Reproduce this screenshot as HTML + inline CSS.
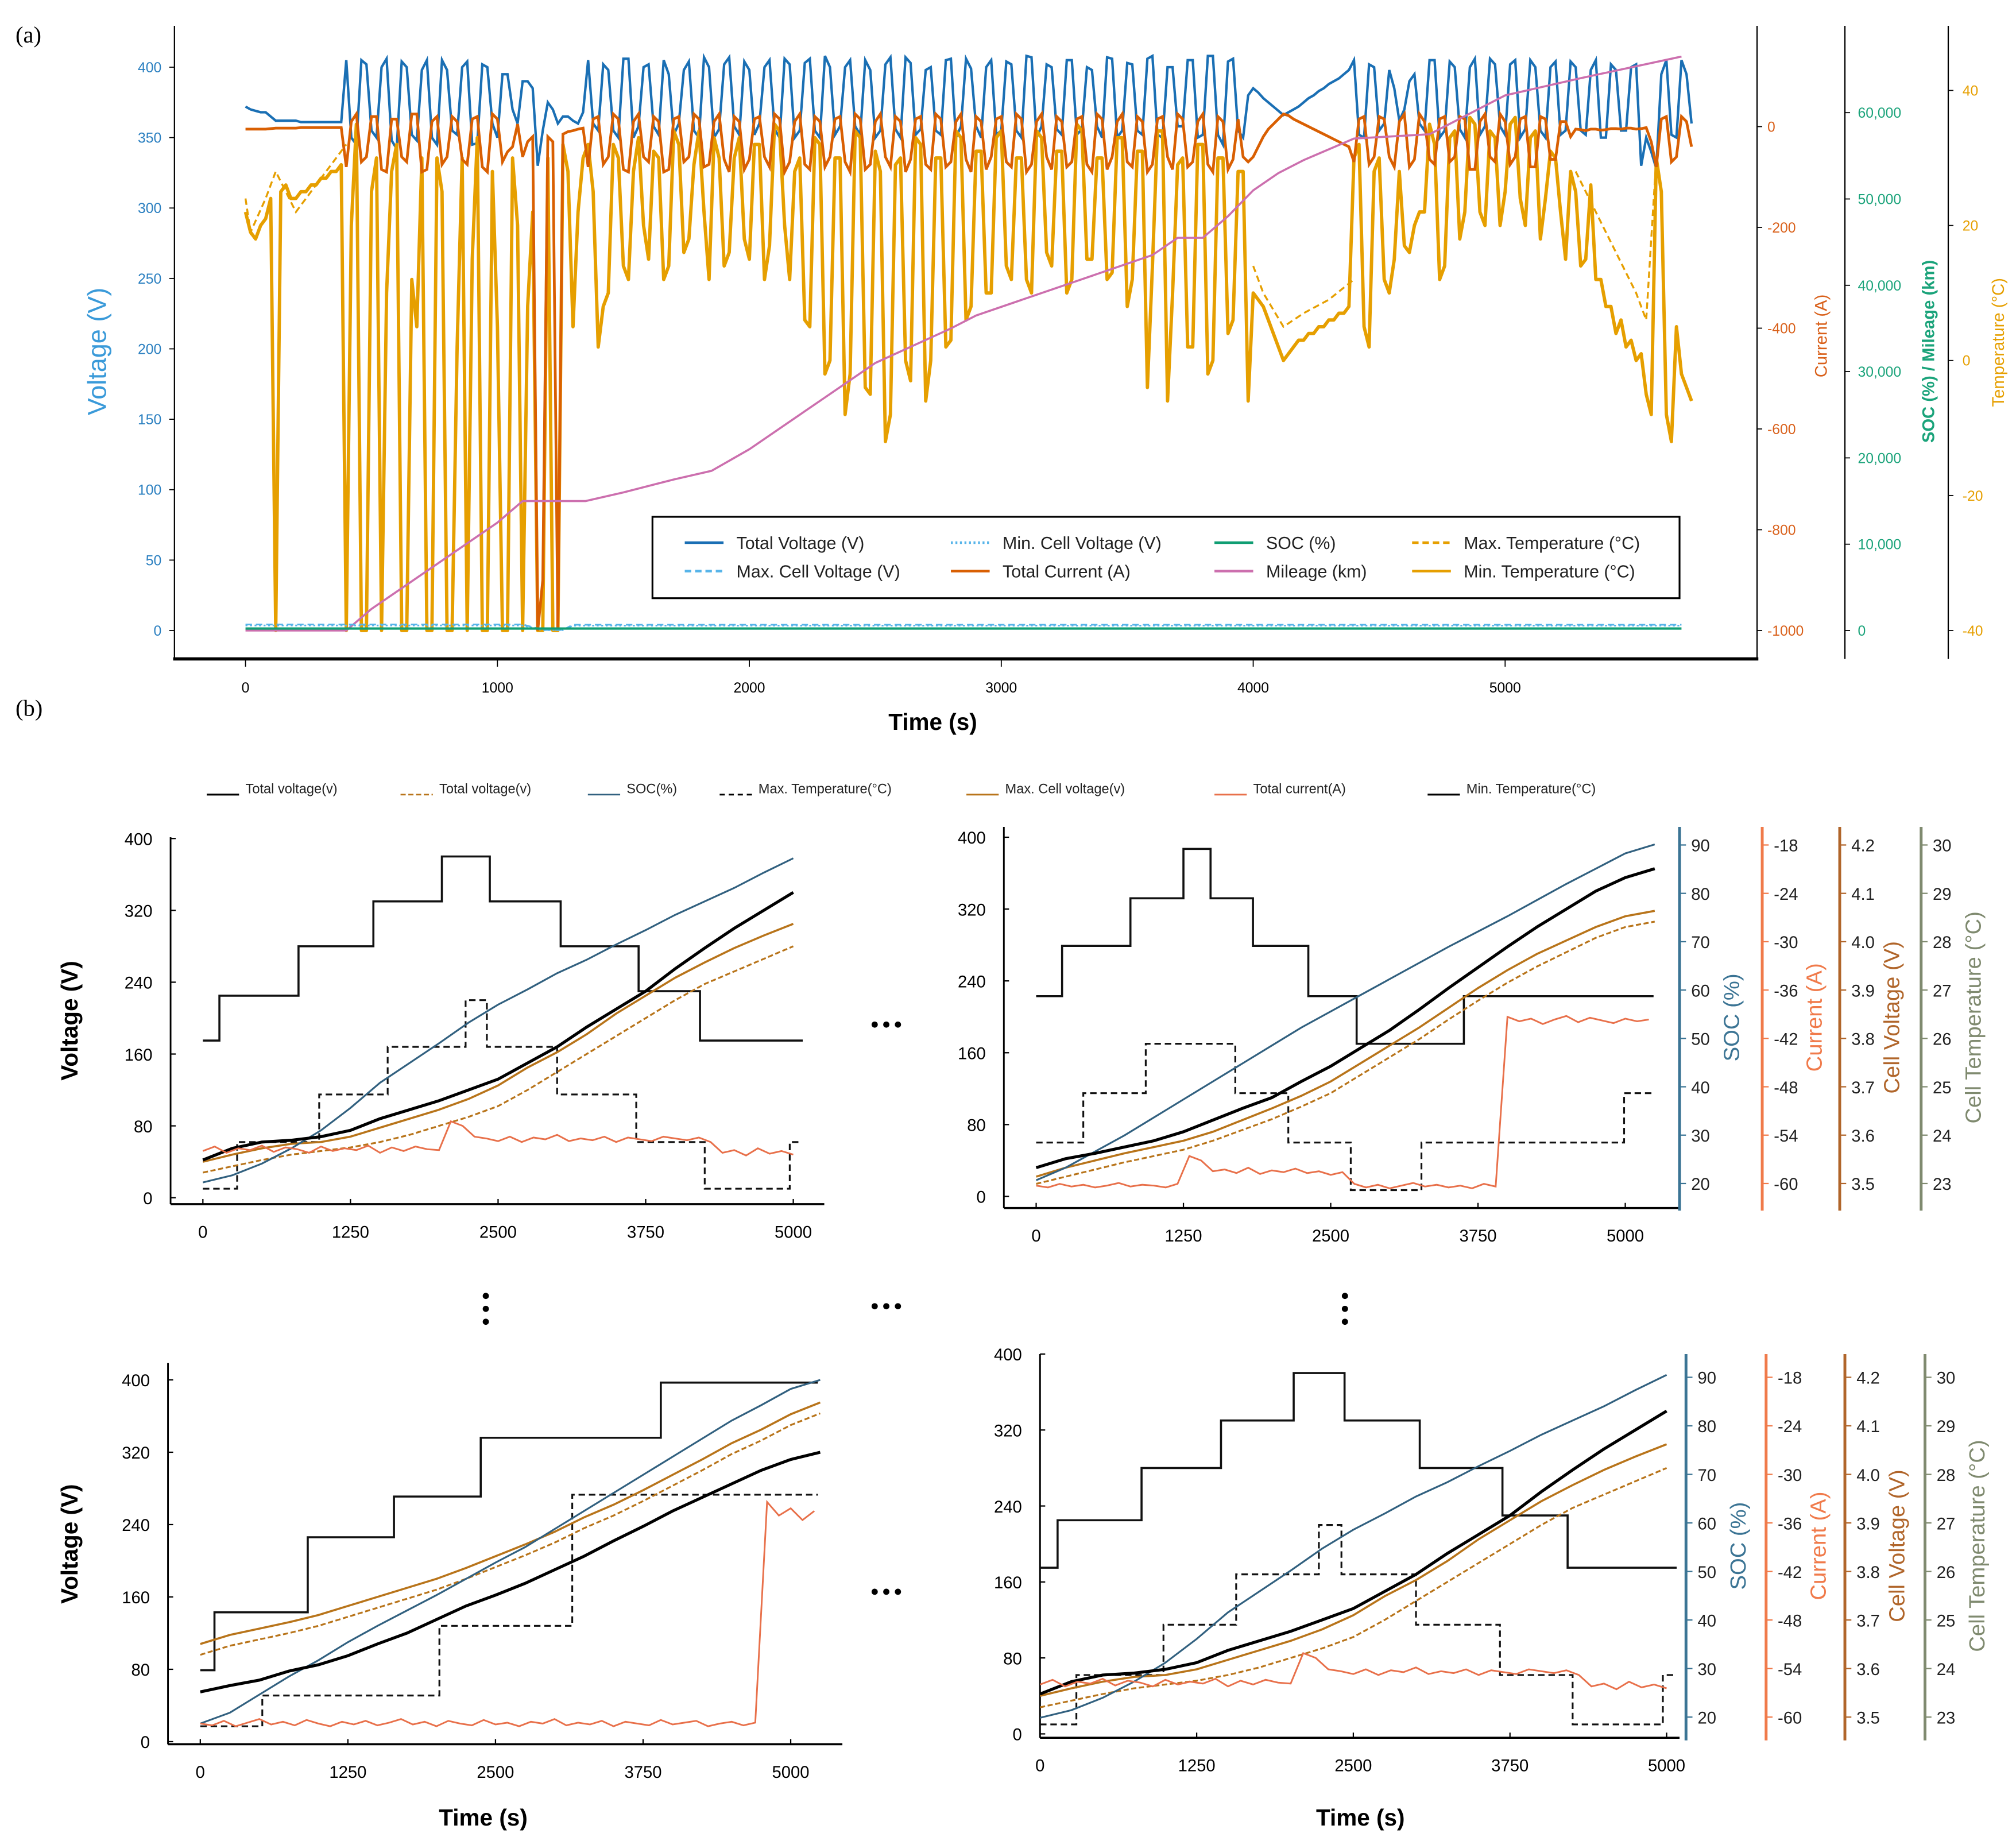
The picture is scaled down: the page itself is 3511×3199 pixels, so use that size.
<!DOCTYPE html>
<html><head><meta charset="utf-8">
<style>
html,body{margin:0;padding:0;background:#fff;}
svg{display:block;font-family:"Liberation Sans",Arial,sans-serif;}
</style></head>
<body>
<svg id="root" xmlns="http://www.w3.org/2000/svg" width="3511" height="3199" viewBox="0 0 1560.4 1421.8">
<rect x="0" y="0" width="1560.4" height="1421.8" fill="#fff"/>
<g id="pa"></g>
<g id="pb"></g>
</svg>
<script>
// ---------- Panel (a) data ----------
const timeStepA = 40; // sampling step (s); "Mid" arrays are sampled halfway between
const voltageA = [372,369,368,362,362,362,361,361,361,361,
405,345,402,350,406,342,400,348,405,345,398,352,404,346,400,350,395,360,
390,330,375,360,365,360,
405,355,398,350,406,358,402,352,395,360,404,350,400,356,407,352,398,360,405,350,402,355,406,350,400,358,405,352,398,355,407,350,403,356,400,352,406,358,399,350,405,355,402,350,407,358,400,352,405,356,398,350,406,355,402,352,408,350,400,358,405,352,408,345,406,350,
385,378,372,366,370,375,380,385,390,395,
405,350,400,360,385,370,395,355,
405,355,400,350,406,358,402,352,405,356,400,350,404,355,400,352,405,350,398,355,402,350,
328,405,350,395];
const voltageMid = [370,368,365,362,362,361,361,361,361,361,
350,405,355,400,348,404,352,398,350,405,355,400,345,402,360,395,370,390,385,355,370,365,362,368,
360,402,355,406,350,400,358,405,352,398,355,407,350,402,358,404,352,400,356,406,350,403,355,408,352,400,358,405,350,402,356,407,352,398,355,405,350,406,358,400,352,404,355,408,350,402,356,405,352,400,358,407,350,403,355,406,352,400,358,405,350,408,352,404,355,380,
382,375,369,368,372,378,383,388,392,398,
352,402,355,398,362,390,360,405,350,404,356,400,352,406,358,402,350,405,355,400,352,404,355,398,350,402,355,400,330,340,395,352,405,360];
const currentA = [-5,-5,-5,-3,-3,-3,-2,-2,-2,-2,
-80,25,-60,20,-90,15,-70,25,-85,20,-60,10,-75,20,-90,15,-50,5,
-30,-1000,-20,-1000,-10,-5,
-80,20,-60,15,-90,25,-70,10,-85,20,-60,15,-75,25,-90,10,-65,20,-80,15,-70,25,-85,10,-60,20,-90,15,-75,25,-80,10,-65,20,-85,15,-70,25,-90,10,-60,20,-80,15,-75,25,-85,10,-70,20,-90,15,-60,25,-80,10,-75,20,-85,15,-70,25,-90,10,-65,-60,
-60,-20,5,25,15,5,-5,-15,-25,-35,
-70,20,-60,15,-80,25,-65,10,-75,20,-60,15,-85,25,-70,10,-60,20,-80,15,-65,10,
-5,-8,-5,-6,-4,-3,-5,-2,
-80,20,-60,10];
const currentMid = [-5,-5,-4,-3,-3,-2,-2,-2,-2,-2,
10,-70,20,-85,15,-60,25,-90,10,-75,20,-65,15,-80,25,-70,-40,-60,-20,-900,-30,-15,-8,-3,
15,-75,25,-85,10,-60,20,-90,15,-70,25,-80,10,-65,20,-85,15,-60,25,-90,10,-75,20,-80,15,-70,25,-85,10,-60,20,-90,15,-75,25,-80,10,-65,20,-85,15,-70,25,-90,10,-60,20,-80,15,-75,25,-85,10,-70,20,-90,15,-60,25,-80,10,-75,20,-85,15,-70,
-40,-5,15,22,10,0,-10,-20,-30,-40,
15,-75,20,-60,10,-80,25,-65,15,-70,20,-85,10,-60,25,-75,15,-80,20,-65,10,-20,
-6,-5,-7,-4,-5,-3,-4,-30,
15,-70,20,-40];
const tempMinA = [22,18,21,-40,26,24,25,26,27,28,
-40,35,-40,30,10,32,-40,5,-40,30,-40,2,-40,33,-40,5,-40,20,8,-40,30,-40,28,22,32,2,10,30,12,33,
15,30,14,32,18,34,12,30,16,33,15,32,17,34,12,30,5,32,0,30,
-2,33,-5,28,-8,30,-3,32,0,30,3,33,8,31,10,34,12,30,10,33,
14,31,12,34,15,30,13,33,12,31,14,34,10,30,2,32,0,30,6,28,
10,8,4,0,2,3,4,5,6,7,30,5,28,12,15,17,20,22,32,14,
34,22,35,20,33,25,36,20,34,24,30,15,25,15,12,8,4,2,0,-5,
30,-8,5,-4];
const tempMinMid = [19,20,24,25,24,25,26,27,28,29,
20,-40,25,-40,28,-40,12,30,-40,25,-40,30,15,-40,28,-40,30,-40,22,-40,-40,32,5,30,
25,8,32,14,28,20,31,12,34,16,29,22,33,14,30,18,32,12,35,20,
28,6,33,-2,30,-8,34,-4,31,-12,29,0,33,-6,30,2,34,6,31,10,
33,14,30,12,34,16,31,10,35,15,30,12,33,8,31,-4,34,-6,29,2,
32,-2,30,4,28,-6,
9,6,2,1,3,4,5,6,7,8,
32,2,30,10,28,16,22,35,12,33,18,36,22,34,20,35,24,33,18,31,22,28,14,26,12,8,6,3,1,-8,25,-12,-2,-6];
const tempMaxT = [0,20,80,120,200,400,null,4000,4040,4120,4200,4300,4400,null,5280,5360,5440,5520,5560,5600];
const tempMaxV = [24,19,24,28,22,32,null,14,10,5,7,9,12,null,28,22,16,10,6,30];
const mileageT = [0,400,500,600,700,800,900,1000,1100,1350,1500,1700,1850,2000,2150,2300,2400,2500,2650,2800,2900,3000,3150,3300,3500,3600,3700,3800,3900,4000,4100,4200,4400,4700,4800,5000,5300,5700];
const mileageV = [0,0,2500,4500,6500,8500,10500,12500,15000,15000,16000,17500,18500,21000,24000,27000,29000,31000,33000,35000,36500,37500,39000,40500,42500,43500,45500,45500,48000,51000,53000,54500,57000,57500,59000,62000,64000,66500];
const cellT = [0,1100,1180,1260,1300,5700];
const cellMaxV = [4.3,4.3,0.4,0.4,4.1,4.1];
const cellMinV = [3.6,3.6,0.3,0.3,3.5,3.5];
const socT = [0,5700];
const socV = [1.5,1.5];
const voltTicksA = [0,50,100,150,200,250,300,350,400];
const currTicksA = [0,-200,-400,-600,-800,-1000];
const milTicksA = [0,10000,20000,30000,40000,50000,60000];
const tempTicksA = [40,20,0,-20,-40];
const timeTicksA = [0,1000,2000,3000,4000,5000];

// ---------- Panel (b) data ----------
const gridT = [0,250,500,750,1000,1250,1500,1750,2000,2250,2500,2750,3000,3250,3500,3750,4000,4250,4500,4750,5000,5250];
const p1Soc = [17,25,38,55,75,100,128,150,172,195,215,232,250,265,282,298,315,330,345,362,378];
const p1Tot = [42,55,62,64,68,75,88,98,108,120,132,150,168,190,210,230,255,278,300,320,340];
const p1Cell = [40,48,55,60,62,68,78,88,98,110,125,145,162,182,205,225,245,262,278,292,305];
const p1CellD = [28,35,42,48,52,56,62,70,80,90,102,120,140,160,180,200,220,238,252,266,280];
const p1StepT = [0,140,810,1444,2024,2430,3030,3690,4210,5080];
const p1StepV = [175,225,280,330,380,330,280,230,175,175];
const p1DashT = [0,290,985,1565,2225,2405,3000,3670,4250,4970,5070];
const p1DashV = [10,62,115,168,220,168,115,62,10,62,62];
const p1Cur = [52,57,50,55,53,58,51,56,54,50,57,52,55,53,58,50,56,52,57,54,53,85,80,68,66,63,68,62,67,65,70,63,66,64,68,62,67,65,63,68,66,64,67,62,50,53,47,55,49,52,48];
const p2Soc = [18,32,50,68,88,108,128,148,168,188,206,224,242,260,278,295,312,330,348,365,382,392];
const p2Tot = [32,42,48,55,62,72,85,98,110,128,145,165,185,208,232,255,278,300,320,340,355,365];
const p2Cell = [22,32,40,48,55,62,72,85,98,112,128,148,168,188,210,232,252,270,285,300,312,318];
const p2CellD = [14,22,30,38,45,52,62,74,86,100,115,135,155,175,197,218,238,256,272,288,300,306];
const p2StepT = [0,220,800,1250,1480,1840,2310,2720,3630,5240];
const p2StepV = [223,279,332,387,332,279,223,170,223,223];
const p2DashT = [0,400,930,1690,2140,2670,3270,4990,5240];
const p2DashV = [60,115,170,115,60,7,60,115,115];
const p2Cur = [12,10,14,11,13,10,12,15,11,13,12,10,14,45,40,28,30,26,32,25,29,27,31,26,28,24,27,14,10,13,9,12,15,11,13,10,12,9,14,11,200,195,198,192,197,201,194,199,196,193,198,195,197];
const p3Soc = [20,32,52,72,90,110,128,145,162,180,198,215,235,255,275,295,315,335,355,372,390,400];
const p3Tot = [55,62,68,78,85,95,108,120,135,150,162,175,190,205,222,238,255,270,285,300,312,320];
const p3Cell = [108,118,125,132,140,150,160,170,180,192,205,218,232,248,262,278,295,312,330,345,362,375];
const p3CellD = [96,106,113,120,128,138,148,158,168,180,193,206,220,236,250,266,283,300,318,333,350,363];
const p3StepT = [0,120,910,1640,2375,3900,5230];
const p3StepV = [79,143,226,271,336,397,397];
const p3DashT = [0,525,2025,3150,5230];
const p3DashV = [17,51,128,273,273];
const p3Cur = [20,18,23,17,21,25,19,22,18,24,20,17,22,19,23,18,21,25,19,22,17,23,20,18,24,19,21,17,22,20,25,18,21,19,23,17,22,20,18,24,19,21,23,17,20,22,18,21,265,250,258,245,255];
const voltTicksB = [0,80,160,240,320,400];
const timeTicksB = [0,1250,2500,3750,5000];
const socTicksB = [90,80,70,60,50,40,30,20];
const curTicksB = [-18,-24,-30,-36,-42,-48,-54,-60];
const cellVTicksB = ["4.2","4.1","4.0","3.9","3.8","3.7","3.6","3.5"];
const cellTTicksB = [30,29,28,27,26,25,24,23];

// ---------- helpers ----------
const NS = "http://www.w3.org/2000/svg";
function mk(parent, tag, attrs, txt){
  const e = document.createElementNS(NS, tag);
  for (const k in attrs) e.setAttribute(k, attrs[k]);
  if (txt !== undefined) e.textContent = txt;
  parent.appendChild(e);
  return e;
}
function pathFrom(xs, ys){
  let d = "", pen = false;
  for (let i=0;i<xs.length;i++){
    if (xs[i]===null || ys[i]===null){ pen=false; continue; }
    d += (pen?"L":"M") + xs[i].toFixed(2) + "," + ys[i].toFixed(2);
    pen = true;
  }
  return d;
}
function stairFrom(xs, ys){
  let d = "M"+xs[0].toFixed(2)+","+ys[0].toFixed(2);
  for (let i=1;i<xs.length;i++){
    d += "H"+xs[i].toFixed(2)+"V"+ys[i].toFixed(2);
  }
  return d;
}
function weave(a, b){
  const out = [];
  for (let i=0;i<a.length;i++){ out.push(a[i]); if (i<b.length) out.push(b[i]); }
  return out;
}

// ---------- Panel (a) ----------
(function(){
  const g = document.getElementById('pa');
  const X = t => 190 + t*0.195;
  const YV = v => 488 - v*1.09;
  const YI = c => 98 - c*0.39;
  const YM = m => 488 - m*0.00668;
  const YT = c => 279 - c*5.225;
  const volt = weave(voltageA, voltageMid);
  const curr = weave(currentA, currentMid);
  const temp = weave(tempMinA, tempMinMid);
  const tA = volt.map((_,i)=>i*timeStepA/2);

  let t = mk(g,'text',{x:12,y:33,'font-family':'Liberation Serif',"font-size":18});
  t.textContent='(a)';
  
  

  let ax = mk(g,'line',{x1:135,y1:20,x2:135,y2:511,stroke:'#000','stroke-width':1});
   
  ax = mk(g,'line',{x1:134,y1:510,x2:1361,y2:510,stroke:'#000','stroke-width':2.5});
   
  [[1360,'current-axis'],[1428,'soc-mileage-axis'],[1508,'temperature-axis']].forEach(a=>{
    const l = mk(g,'line',{x1:a[0],y1:20,x2:a[0],y2:510,stroke:'#000','stroke-width':1});
     
  });

  voltTicksA.forEach(v=>{
    mk(g,'line',{x1:131,y1:YV(v),x2:135,y2:YV(v),stroke:'#000','stroke-width':0.8});
    const e = mk(g,'text',{x:125,y:YV(v)+4,'text-anchor':'end','font-size':11,fill:'#2a7fc0'},String(v));
     
  });
  currTicksA.forEach(v=>{
    mk(g,'line',{x1:1360,y1:YI(v),x2:1364,y2:YI(v),stroke:'#000','stroke-width':0.8});
    const e = mk(g,'text',{x:1368,y:YI(v)+4,'font-size':11,fill:'#d9601a'},String(v));
     
  });
  milTicksA.forEach(v=>{
    mk(g,'line',{x1:1428,y1:YM(v),x2:1432,y2:YM(v),stroke:'#000','stroke-width':0.8});
    const e = mk(g,'text',{x:1438,y:YM(v)+4,'font-size':11,fill:'#1aa37a'},v.toLocaleString('en-US'));
     
  });
  tempTicksA.forEach(v=>{
    mk(g,'line',{x1:1508,y1:YT(v),x2:1512,y2:YT(v),stroke:'#000','stroke-width':0.8});
    const e = mk(g,'text',{x:1519,y:YT(v)+4,'font-size':11,fill:'#e69f00'},String(v));
     
  });
  timeTicksA.forEach(v=>{
    mk(g,'line',{x1:X(v),y1:510,x2:X(v),y2:516,stroke:'#000','stroke-width':0.8});
    const e = mk(g,'text',{x:X(v),y:536,'text-anchor':'middle','font-size':11,fill:'#000'},String(v));
     
  });

  let e = mk(g,'text',{x:0,y:0,transform:'translate(82,272) rotate(-90)','text-anchor':'middle','font-size':20,fill:'#3a9ad9'},'Voltage (V)');
   
  e = mk(g,'text',{x:0,y:0,transform:'translate(1414,260) rotate(-90)','text-anchor':'middle','font-size':13,fill:'#d9601a'},'Current (A)');
   
  e = mk(g,'text',{x:0,y:0,transform:'translate(1497,272) rotate(-90)','text-anchor':'middle','font-size':13,'font-weight':'bold',fill:'#1aa37a'},'SOC (%) / Mileage (km)');
   
  e = mk(g,'text',{x:0,y:0,transform:'translate(1551,265) rotate(-90)','text-anchor':'middle','font-size':13,fill:'#e69f00'},'Temperature (°C)');
   
  e = mk(g,'text',{x:722,y:565,'text-anchor':'middle','font-size':18,'font-weight':'bold'},'Time (s)');
   

  let p = mk(g,'path',{d:pathFrom(tA.map(X),volt.map(YV)),fill:'none',stroke:'#1a6fb4','stroke-width':1.9});
   
  p = mk(g,'path',{d:pathFrom(tempMaxT.map(v=>v===null?null:X(v)),tempMaxV.map(v=>v===null?null:YT(v))),fill:'none',stroke:'#e69f00','stroke-width':1.5,'stroke-dasharray':'5,3'});
   
  p = mk(g,'path',{d:pathFrom(tA.map(X),temp.map(YT)),fill:'none',stroke:'#e69f00','stroke-width':2.6,'stroke-linejoin':'round'});
   
  p = mk(g,'path',{d:pathFrom(tA.map(X),curr.map(YI)),fill:'none',stroke:'#d95f02','stroke-width':2.1});
   
  p = mk(g,'path',{d:pathFrom(mileageT.map(X),mileageV.map(YM)),fill:'none',stroke:'#cc6fae','stroke-width':1.6});
   
  p = mk(g,'path',{d:pathFrom(cellT.map(X),cellMaxV.map(YV)),fill:'none',stroke:'#56b4e9','stroke-width':1.3,'stroke-dasharray':'5,3'});
   
  p = mk(g,'path',{d:pathFrom(cellT.map(X),cellMinV.map(YV)),fill:'none',stroke:'#56b4e9','stroke-width':1.3,'stroke-dasharray':'1.5,2'});
   
  p = mk(g,'path',{d:pathFrom(socT.map(X),socV.map(v=>YM(v)-1.5)),fill:'none',stroke:'#109e73','stroke-width':1.8});
   

  const lg = mk(g,'g',{});
   
  mk(lg,'rect',{x:505,y:400,width:795,height:63,fill:'#fff',stroke:'#000','stroke-width':1.4});
  const items = [
    [530,424,'#1a6fb4','','Total Voltage (V)'],
    [530,446,'#56b4e9','5,3','Max. Cell Voltage (V)'],
    [736,424,'#56b4e9','1.5,2','Min. Cell Voltage (V)'],
    [736,446,'#d95f02','','Total Current (A)'],
    [940,424,'#109e73','','SOC (%)'],
    [940,446,'#cc6fae','','Mileage (km)'],
    [1093,424,'#e69f00','5,3','Max. Temperature (°C)'],
    [1093,446,'#e69f00','','Min. Temperature (°C)']];
  items.forEach(it=>{
    const ent = mk(lg,'g',{});
     
    const a = {x1:it[0],y1:it[1]-4,x2:it[0]+30,y2:it[1]-4,stroke:it[2],'stroke-width':2};
    if (it[3]) a['stroke-dasharray']=it[3];
    mk(ent,'line',a);
    mk(ent,'text',{x:it[0]+40,y:it[1]+1,'font-size':13.5,fill:'#222'},it[4]);
  });
})();

// ---------- Panel (b) ----------
(function(){
  const g = document.getElementById('pb');
  let e = mk(g,'text',{x:12,y:554,'font-family':'Liberation Serif','font-size':18},'(b)');
   

  const lg = mk(g,'g',{});
   
  const L = [[160,'#000','','Total voltage(v)',1.5],[310,'#b8741a','4,2','Total voltage(v)',1.2],[455,'#31607f','','SOC(%)',1.2],
             [557,'#000','4,3','Max. Temperature(°C)',1.3],[748,'#b8741a','','Max. Cell voltage(v)',1.3],[940,'#e8704a','','Total current(A)',1.3],[1105,'#000','','Min. Temperature(°C)',1.5]];
  L.forEach(it=>{
    const ent = mk(lg,'g',{});
     
    const a={x1:it[0],y1:615,x2:it[0]+25,y2:615,stroke:it[1],'stroke-width':it[4]};
    if(it[2]) a['stroke-dasharray']=it[2];
    mk(ent,'line',a);
    mk(ent,'text',{x:it[0]+30,y:614,'font-size':10.5,fill:'#222'},it[3]);
  });

  function panel(name, c, d){
    const pg = mk(g,'g',{});
     
    const X = t => c.x0 + t*c.kx;
    const Y = v => c.y0 - v*c.ky;
    mk(pg,'line',{x1:c.ax,y1:c.top,x2:c.ax,y2:c.bot,stroke:'#000','stroke-width':1.3});
    mk(pg,'line',{x1:c.ax,y1:c.bot,x2:c.right,y2:c.bot,stroke:'#000','stroke-width':1.6});
    voltTicksB.forEach(v=>{
      mk(pg,'line',{x1:c.ax,y1:Y(v),x2:c.ax+4,y2:Y(v),stroke:'#000','stroke-width':1});
      const t = mk(pg,'text',{x:c.ax-14,y:Y(v)+5,'text-anchor':'end','font-size':13},String(v));
       
    });
    timeTicksB.forEach(v=>{
      mk(pg,'line',{x1:X(v),y1:c.bot,x2:X(v),y2:c.bot-4,stroke:'#000','stroke-width':1});
      const t = mk(pg,'text',{x:X(v),y:c.bot+26,'text-anchor':'middle','font-size':13},String(v));
       
    });
    const s = (dd, name2, attrs)=>{
      const p = mk(pg,'path',Object.assign({d:dd,fill:'none'},attrs));
       
    };
    const gt = gridT.slice(0,d.soc.length);
    s(stairFrom(d.stepT.map(X),d.stepV.map(Y)),'min-temperature-line',{stroke:'#111','stroke-width':1.6});
    s(stairFrom(d.dashT.map(X),d.dashV.map(Y)),'max-temperature-line',{stroke:'#111','stroke-width':1.4,'stroke-dasharray':'5,3'});
    s(pathFrom(gt.map(X),d.cellD.map(Y)),'total-voltage-dashed-line',{stroke:'#b8741a','stroke-width':1.4,'stroke-dasharray':'4,2'});
    s(pathFrom(gt.map(X),d.cell.map(Y)),'max-cell-voltage-line',{stroke:'#b8741a','stroke-width':1.6});
    s(pathFrom(gt.map(X),d.soc.map(Y)),'soc-line',{stroke:'#31607f','stroke-width':1.4});
    s(pathFrom(gt.map(X),d.tot.map(Y)),'total-voltage-line',{stroke:'#000','stroke-width':2.3});
    s(pathFrom(d.cur.map((_,i)=>X(i*100)),d.cur.map(Y)),'total-current-line',{stroke:'#e8704a','stroke-width':1.3});
    if (c.rightAxes){
      const axes = [
        [c.ax2[0],'#3b7494',socTicksB,'SOC (%)','soc-axis'],
        [c.ax2[1],'#f07a4a',curTicksB,'Current (A)','current-axis'],
        [c.ax2[2],'#b0652a',cellVTicksB,'Cell Voltage (V)','cell-voltage-axis'],
        [c.ax2[3],'#7f8a6f',cellTTicksB,'Cell Temperature (°C)','cell-temperature-axis']];
      axes.forEach(a=>{
        const ag = mk(pg,'g',{});
         
        mk(ag,'line',{x1:a[0],y1:c.top,x2:a[0],y2:c.bot+2,stroke:a[1],'stroke-width':2.2});
        a[2].forEach((v,i)=>{
          const yy = c.rt0 + i*(c.rt1-c.rt0)/7;
          mk(ag,'line',{x1:a[0],y1:yy,x2:a[0]+5,y2:yy,stroke:a[1],'stroke-width':1});
          mk(ag,'text',{x:a[0]+9,y:yy+5,'font-size':13,fill:'#222'},String(v));
        });
        mk(ag,'text',{x:0,y:0,transform:'translate('+(a[0]+46)+','+((c.top+c.bot)/2)+') rotate(-90)','text-anchor':'middle','font-size':17,fill:a[1]},a[3]);
      });
    }
  }
  const d1 = {soc:p1Soc,tot:p1Tot,cell:p1Cell,cellD:p1CellD,stepT:p1StepT,stepV:p1StepV,dashT:p1DashT,dashV:p1DashV,cur:p1Cur};
  const d2 = {soc:p2Soc,tot:p2Tot,cell:p2Cell,cellD:p2CellD,stepT:p2StepT,stepV:p2StepV,dashT:p2DashT,dashV:p2DashV,cur:p2Cur};
  const d3 = {soc:p3Soc,tot:p3Tot,cell:p3Cell,cellD:p3CellD,stepT:p3StepT,stepV:p3StepV,dashT:p3DashT,dashV:p3DashV,cur:p3Cur};
  panel('subplot-top-left',{x0:157,kx:0.0914,y0:927,ky:0.695,ax:132,top:648,bot:932,right:638},d1);
  panel('subplot-top-right',{x0:802,kx:0.0912,y0:926,ky:0.695,ax:777,top:640,bot:935,right:1300,rightAxes:true,ax2:[1300,1364,1424,1487],rt0:654,rt1:916},d2);
  panel('subplot-bottom-left',{x0:155,kx:0.0914,y0:1348,ky:0.70,ax:130,top:1055,bot:1350,right:652},d3);
  panel('subplot-bottom-right',{x0:805,kx:0.097,y0:1342,ky:0.735,ax:805,top:1048,bot:1345,right:1300,rightAxes:true,ax2:[1305,1367,1428,1490],rt0:1066,rt1:1329},d1);

  [[60,790],[60,1195]].forEach(p=>{
    const t = mk(g,'text',{x:0,y:0,transform:'translate('+p[0]+','+p[1]+') rotate(-90)','text-anchor':'middle','font-size':18,'font-weight':'bold'},'Voltage (V)');
     
  });
  [[374,1413],[1053,1413]].forEach(p=>{
    const t = mk(g,'text',{x:p[0],y:p[1],'text-anchor':'middle','font-size':18,'font-weight':'bold'},'Time (s)');
     
  });
  [[686,793],[686,1011],[686,1232]].forEach(p=>{
    const gg = mk(g,'g',{});
     
    [-9,0,9].forEach(o=>mk(gg,'circle',{cx:p[0]+o,cy:p[1],r:2.4,fill:'#000'}));
  });
  [[376,1013],[1041,1013]].forEach(p=>{
    const gg = mk(g,'g',{});
     
    [-10,0,10].forEach(o=>mk(gg,'circle',{cx:p[0],cy:p[1]+o,r:2.4,fill:'#000'}));
  });
})();
</script>
</body></html>
